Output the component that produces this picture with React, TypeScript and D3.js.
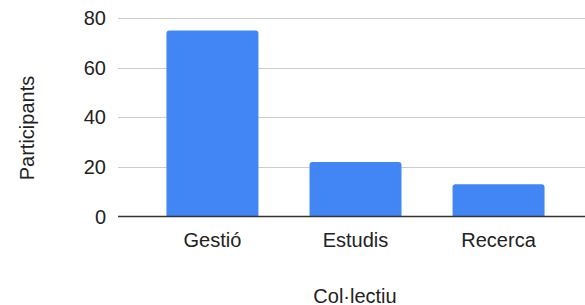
import React from 'react';
import * as d3 from 'd3';

const categories = ['Gestió', 'Estudis', 'Recerca'];
const participants = [75, 22, 13];
const yTicks = [0, 20, 40, 60, 80];

const FONT = '"Liberation Sans", Arial, sans-serif';

const App: React.FC = () => {
  const width = 585;
  const height = 305;
  const plotLeft = 118;
  const plotRight = 585;
  const plotTop = 18;
  const plotBottom = 216.5;

  const x = d3
    .scaleBand<string>()
    .domain(categories)
    .range([141, 570])
    .paddingInner(0.357)
    .paddingOuter(0.178);

  const y = d3.scaleLinear().domain([0, 80]).range([plotBottom, plotTop]);

  // bar with rounded top corners only
  const barPath = (x0: number, w: number, yTop: number, yBase: number) => {
    const r = Math.min(3, (yBase - yTop) / 2);
    const p = d3.path();
    p.moveTo(x0, yBase);
    p.lineTo(x0, yTop + r);
    p.quadraticCurveTo(x0, yTop, x0 + r, yTop);
    p.lineTo(x0 + w - r, yTop);
    p.quadraticCurveTo(x0 + w, yTop, x0 + w, yTop + r);
    p.lineTo(x0 + w, yBase);
    p.closePath();
    return p.toString();
  };

  return (
    <svg
      width={width}
      height={height}
      style={{ position: 'absolute', left: 0, top: 0, background: '#fff' }}
      fontFamily={FONT}
    >
      {/* gridlines */}
      {yTicks.filter(t => t !== 0).map(t => (
        <line
          key={t}
          x1={plotLeft}
          x2={plotRight}
          y1={Math.round(y(t)) + 0.5}
          y2={Math.round(y(t)) + 0.5}
          stroke="#cccccc"
          strokeWidth={1}
        />
      ))}

      {/* y tick labels */}
      {yTicks.map(t => (
        <text
          key={t}
          x={106}
          y={y(t)}
          dy="0.36em"
          textAnchor="end"
          fontSize={20}
          fill="#222"
        >
          {t}
        </text>
      ))}

      {/* bars */}
      {categories.map((c, i) => (
        <path
          key={c}
          d={barPath(x(c) as number, x.bandwidth(), y(participants[i]), plotBottom)}
          fill="#4285f4"
        />
      ))}

      {/* baseline */}
      <line
        x1={plotLeft}
        x2={plotRight}
        y1={plotBottom}
        y2={plotBottom}
        stroke="#333"
        strokeWidth={1.5}
      />

      {/* x category labels */}
      {categories.map(c => (
        <text
          key={c}
          x={(x(c) as number) + x.bandwidth() / 2}
          y={246.5}
          textAnchor="middle"
          fontSize={20}
          fill="#222"
        >
          {c}
        </text>
      ))}

      {/* axis titles */}
      <text x={355} y={302.5} textAnchor="middle" fontSize={20} fill="#222">
        Col·lectiu
      </text>
      <text
        transform={`translate(34, 128) rotate(-90)`}
        textAnchor="middle"
        fontSize={20}
        fill="#222"
      >
        Participants
      </text>
    </svg>
  );
};

export default App;
